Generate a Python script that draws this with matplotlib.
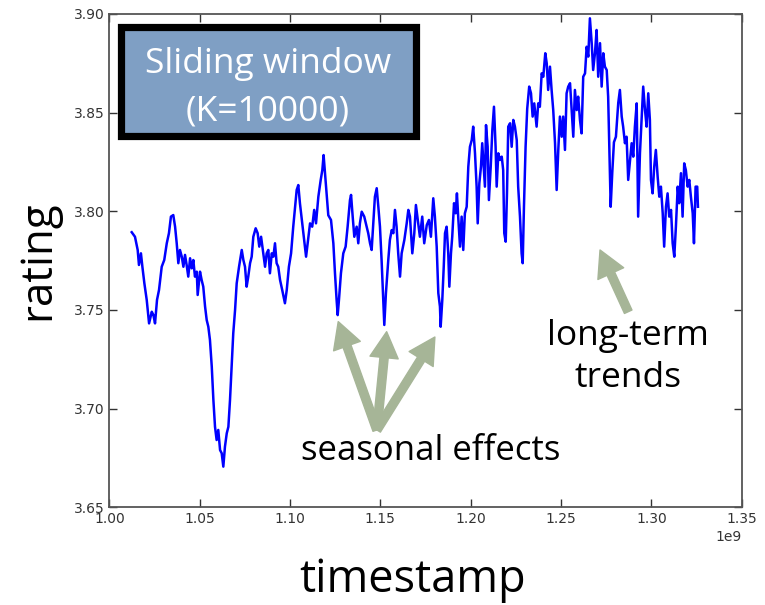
import numpy as np
import matplotlib
matplotlib.use("Agg")
import matplotlib.pyplot as plt
from matplotlib.patches import Rectangle

# timestamps (units of 1e9 seconds) and sliding-window average rating
ts_e9 = [
    1.0124, 1.0142, 1.0157, 1.0164, 1.0175, 1.0183, 1.0194, 1.0207, 1.0220, 1.0235,
    1.0244, 1.0253, 1.0264, 1.0275, 1.0290, 1.0304, 1.0318, 1.0330, 1.0341, 1.0354,
    1.0364, 1.0373, 1.0382, 1.0391, 1.0401, 1.0410, 1.0419, 1.0428, 1.0437, 1.0447,
    1.0456, 1.0465, 1.0474, 1.0484, 1.0489, 1.0502, 1.0511, 1.0520, 1.0530, 1.0539,
    1.0548, 1.0557, 1.0567, 1.0576, 1.0585, 1.0594, 1.0603, 1.0613, 1.0622, 1.0631,
    1.0640, 1.0650, 1.0659, 1.0668, 1.0677, 1.0686, 1.0696,
    1.0705, 1.0718, 1.0733, 1.0742, 1.0751, 1.0760, 1.0769, 1.0779, 1.0788, 1.0797,
    1.0810, 1.0821, 1.0830, 1.0840, 1.0852, 1.0862, 1.0871, 1.0880, 1.0889, 1.0899,
    1.0908, 1.0917, 1.0926, 1.0935, 1.0945, 1.0957, 1.0972, 1.0982, 1.0994, 1.1006,
    1.1018, 1.1028, 1.1037, 1.1046, 1.1055, 1.1068, 1.1079, 1.1089, 1.1098, 1.1111,
    1.1123, 1.1134, 1.1144, 1.1157, 1.1170, 1.1179, 1.1186, 1.1194, 1.1203, 1.1212,
    1.1227, 1.1240,
    1.1249, 1.1258, 1.1264, 1.1271, 1.1282, 1.1295, 1.1308, 1.1319, 1.1332, 1.1338,
    1.1347, 1.1356, 1.1369, 1.1378, 1.1387, 1.1397, 1.1411, 1.1424, 1.1433, 1.1443,
    1.1452, 1.1461, 1.1470, 1.1480, 1.1489, 1.1498, 1.1507, 1.1516, 1.1522, 1.1531,
    1.1544, 1.1553, 1.1563, 1.1572, 1.1581, 1.1590, 1.1599, 1.1609, 1.1618, 1.1633,
    1.1646, 1.1655, 1.1664, 1.1677, 1.1688, 1.1697, 1.1710, 1.1719, 1.1732, 1.1743,
    1.1757, 1.1769, 1.1780, 1.1793,
    1.1802, 1.1812, 1.1821, 1.1830, 1.1834, 1.1843, 1.1851, 1.1858, 1.1867, 1.1876,
    1.1882, 1.1891, 1.1898, 1.1908, 1.1917, 1.1924, 1.1931, 1.1941, 1.1950, 1.1959,
    1.1968, 1.1978, 1.1987, 1.1996, 1.2006, 1.2014, 1.2024, 1.2033, 1.2039, 1.2048,
    1.2057, 1.2064, 1.2072, 1.2079, 1.2085, 1.2094, 1.2101, 1.2111, 1.2120, 1.2129,
    1.2138, 1.2144, 1.2153, 1.2162, 1.2172, 1.2180, 1.2186, 1.2194, 1.2201, 1.2208,
    1.2218, 1.2227, 1.2236, 1.2245, 1.2255, 1.2263, 1.2273, 1.2282, 1.2288, 1.2295,
    1.2304, 1.2313, 1.2324, 1.2334, 1.2343, 1.2352,
    1.2365, 1.2374, 1.2383, 1.2393, 1.2402, 1.2413, 1.2421, 1.2429, 1.2439, 1.2448,
    1.2457, 1.2467, 1.2476, 1.2485, 1.2494, 1.2504, 1.2512, 1.2522, 1.2531, 1.2540,
    1.2550, 1.2559, 1.2568, 1.2577, 1.2587, 1.2595, 1.2605, 1.2614, 1.2623, 1.2633,
    1.2642, 1.2651, 1.2660, 1.2670, 1.2678, 1.2688, 1.2697, 1.2706, 1.2716, 1.2725,
    1.2734, 1.2743, 1.2753, 1.2761, 1.2767, 1.2775, 1.2784, 1.2793, 1.2804, 1.2817,
    1.2826, 1.2836, 1.2844, 1.2854, 1.2863, 1.2872, 1.2882, 1.2891, 1.2900, 1.2909,
    1.2919, 1.2927, 1.2937, 1.2946, 1.2955, 1.2965, 1.2974, 1.2983, 1.2992, 1.2998,
    1.3007, 1.3016, 1.3025, 1.3035, 1.3044, 1.3053, 1.3063, 1.3071, 1.3081, 1.3090,
    1.3099, 1.3109, 1.3118, 1.3127, 1.3136, 1.3146, 1.3154, 1.3164, 1.3173, 1.3182,
    1.3191, 1.3201, 1.3210, 1.3219, 1.3229, 1.3236, 1.3245, 1.3254, 1.3258,
]

rating = [
    3.7894, 3.7871, 3.7804, 3.7728, 3.7787, 3.7719, 3.7635, 3.7551, 3.7432, 3.7491,
    3.7474, 3.7432, 3.7551, 3.7601, 3.7719, 3.7753, 3.7838, 3.7889, 3.7973, 3.7981,
    3.7922, 3.7838, 3.7737, 3.7804, 3.7770, 3.7719, 3.7779, 3.7728, 3.7669, 3.7762,
    3.7711, 3.7753, 3.7669, 3.7694, 3.7576, 3.7694, 3.7652, 3.7618, 3.7517, 3.7449,
    3.7415, 3.7348, 3.7213, 3.7044, 3.6908, 3.6841, 3.6892, 3.6790, 3.6774, 3.6706,
    3.6807, 3.6875, 3.6908, 3.7044, 3.7213, 3.7382, 3.7500,
    3.7635, 3.7719, 3.7804, 3.7753, 3.7719, 3.7618, 3.7669, 3.7737, 3.7770, 3.7871,
    3.7914, 3.7889, 3.7821, 3.7871, 3.7787, 3.7719, 3.7787, 3.7804, 3.7686, 3.7787,
    3.7770, 3.7838, 3.7737, 3.7719, 3.7652, 3.7601, 3.7534, 3.7601, 3.7719, 3.7787,
    3.7922, 3.8023, 3.8108, 3.8133, 3.8041, 3.7939, 3.7855, 3.7770, 3.7838, 3.7939,
    3.7922, 3.8007, 3.7939, 3.8074, 3.8159, 3.8209, 3.8285, 3.8193, 3.8090, 3.7980,
    3.7956, 3.7838,
    3.7686, 3.7551, 3.7474, 3.7551, 3.7686, 3.7787, 3.7821, 3.7922, 3.8057, 3.8083,
    3.7973, 3.7871, 3.7922, 3.7838, 3.7939, 3.7998, 3.7973, 3.7922, 3.7889, 3.7838,
    3.7804, 3.7939, 3.8074, 3.8117, 3.8023, 3.7922, 3.7753, 3.7551, 3.7424, 3.7585,
    3.7753, 3.7855, 3.7905, 3.7889, 3.8007, 3.7922, 3.7787, 3.7669, 3.7787, 3.7855,
    3.7939, 3.8007, 3.7973, 3.7787, 3.7889, 3.8032, 3.7939, 3.7871, 3.7973, 3.7838,
    3.7930, 3.7956, 3.7871, 3.8066,
    3.7973, 3.7821, 3.7585, 3.7517, 3.7415, 3.7551, 3.7719, 3.7889, 3.7922, 3.7787,
    3.7618, 3.7787, 3.7871, 3.8041, 3.7990, 3.8091, 3.7973, 3.7821, 3.7973, 3.7804,
    3.7990, 3.8023, 3.8226, 3.8327, 3.8361, 3.8429, 3.8294, 3.8125, 3.7939, 3.8142,
    3.8226, 3.8345, 3.8226, 3.8125, 3.8437, 3.8327, 3.8057, 3.8226, 3.8412, 3.8530,
    3.8327, 3.8125, 3.8294, 3.8260, 3.8277, 3.8209, 3.7889, 3.7846, 3.8091, 3.8429,
    3.8446, 3.8327, 3.8463, 3.8429, 3.8361, 3.8125, 3.7973, 3.7787, 3.7737, 3.8023,
    3.8327, 3.8520, 3.8632, 3.8598, 3.8480, 3.8547,
    3.8429, 3.8547, 3.8530, 3.8699, 3.8682, 3.8801, 3.8750, 3.8615, 3.8733, 3.8615,
    3.8513, 3.8345, 3.8108, 3.8311, 3.8480, 3.8378, 3.8480, 3.8311, 3.8598, 3.8632,
    3.8649, 3.8513, 3.8378, 3.8615, 3.8513, 3.8581, 3.8463, 3.8395, 3.8682, 3.8699,
    3.8834, 3.8784, 3.8978, 3.8852, 3.8716, 3.8801, 3.8919, 3.8682, 3.8852, 3.8632,
    3.8801, 3.8733, 3.8716, 3.8581, 3.8345, 3.8023, 3.8200, 3.8350, 3.8378, 3.8550,
    3.8615, 3.8480, 3.8429, 3.8345, 3.8378, 3.8159, 3.8260, 3.8345, 3.8277, 3.8429,
    3.8547, 3.7973, 3.8294, 3.8463, 3.8632, 3.8513, 3.8429, 3.8598, 3.8463, 3.8159,
    3.8091, 3.8226, 3.8311, 3.8175, 3.8074, 3.8125, 3.7990, 3.7821, 3.8023, 3.8091,
    3.7973, 3.8007, 3.7838, 3.7770, 3.7922, 3.8125, 3.8041, 3.8193, 3.7973, 3.8243,
    3.8209, 3.8125, 3.8159, 3.8074, 3.7990, 3.7838, 3.8125, 3.8125, 3.8023,
]

# annotation anchors (timestamp in 1e9, rating)
seasonal_tips = [(1.1267, 3.7441), (1.1535, 3.7390), (1.1802, 3.7363)]
seasonal_base = (1.1481, 3.6892)
trend_tip = (1.2716, 3.7804)
trend_base = (1.2872, 3.7491)

arrow_color = '#a6b597'
box_color = '#7f9fc4'
label_font = ['Open Sans', 'DejaVu Sans']

fig = plt.figure(figsize=(7.65, 6.05), dpi=100)
ax = fig.add_axes([0.1429, 0.1615, 0.8266, 0.8154])

ts = np.array(ts_e9) * 1e9
ax.plot(ts, rating, color='#0000ff', linewidth=1.8)

ax.set_xlim(1.0e9, 1.35e9)
ax.set_ylim(3.65, 3.90)
ax.set_xticks(np.arange(1.0, 1.351, 0.05) * 1e9)
ax.set_yticks([3.65, 3.70, 3.75, 3.80, 3.85, 3.90])
ax.tick_params(direction='in', top=True, right=True, length=6, width=1,
               labelsize=10, colors='#333333')
for s in ax.spines.values():
    s.set_color('#555555')
    s.set_linewidth(1.3)
ax.xaxis.get_offset_text().set_fontsize(10)
ax.xaxis.get_offset_text().set_color('#333333')

ax.set_xlabel('timestamp', fontsize=32.5, family=label_font)
ax.xaxis.set_label_coords(0.48, -0.147)
ax.xaxis.label.set_va('center')
ax.set_ylabel('rating', fontsize=31.5, family=label_font)
ax.yaxis.set_label_coords(-0.113, 0.5)
ax.yaxis.label.set_va('center')

# title box
fig.add_artist(Rectangle((0.1588, 0.7744), 0.385, 0.1802, transform=fig.transFigure,
                         facecolor=box_color, edgecolor='black', linewidth=5.2))
fig.text(0.3503, 0.8935, 'Sliding window', color='white', fontsize=25.5,
         family=label_font, ha='center', va='center')
fig.text(0.3503, 0.8160, '(K=10000)', color='white', fontsize=25.5,
         family=label_font, ha='center', va='center')

# arrows
arrow_props = dict(arrowstyle='simple,head_length=1.1,head_width=1.2,tail_width=0.35',
                   color=arrow_color, mutation_scale=17, shrinkA=0, shrinkB=0)
for tip in seasonal_tips:
    ax.annotate('', xy=(tip[0] * 1e9, tip[1]),
                xytext=(seasonal_base[0] * 1e9, seasonal_base[1]),
                arrowprops=arrow_props)
ax.annotate('', xy=(trend_tip[0] * 1e9, trend_tip[1]),
            xytext=(trend_base[0] * 1e9, trend_base[1]), arrowprops=arrow_props)

ax.text(1.1780e9, 3.6785, 'seasonal effects', fontsize=25, family=label_font,
        ha='center', va='center')
ax.text(1.2871e9, 3.7262, 'long-term\ntrends', fontsize=25.5, family=label_font,
        ha='center', va='center', linespacing=1.3)

fig.savefig('out.png', dpi=100)
